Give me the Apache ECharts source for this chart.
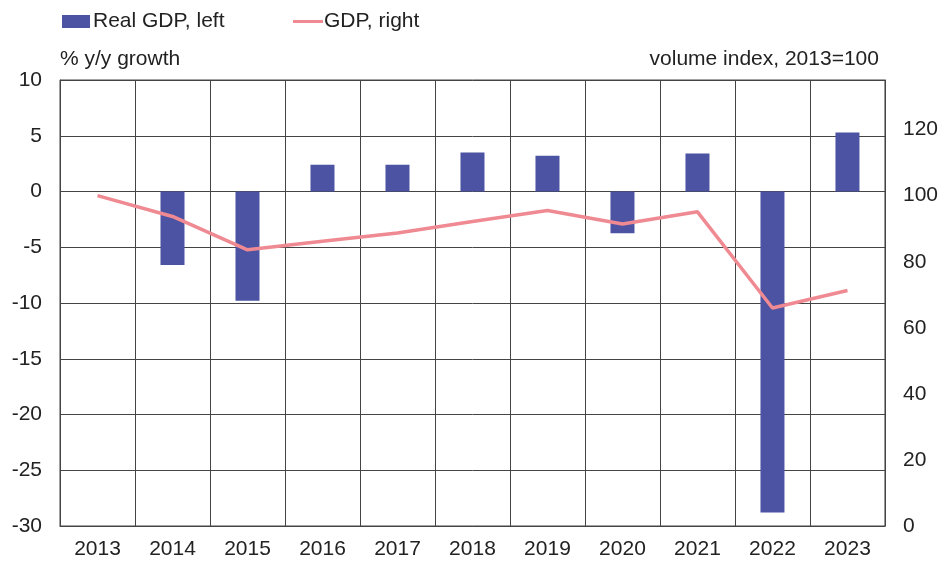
<!DOCTYPE html>
<html>
<head>
<meta charset="utf-8">
<script src="https://cdn.jsdelivr.net/npm/echarts@6/dist/echarts.min.js"></script>
<style>
  html, body { margin: 0; padding: 0; background: #fff; }
  #chart { width: 941px; height: 565px; }
</style>
</head>
<body>
<div id="chart"></div>
<script>
const years = ['2013', '2014', '2015', '2016', '2017', '2018', '2019', '2020', '2021', '2022', '2023']
// % y/y growth, left axis (no bar for the base year)
const realGdp = [null, -6.6, -9.8, 2.4, 2.4, 3.5, 3.2, -3.75, 3.4, -28.8, 5.3]
// volume index 2013=100, right axis
const gdpIndex = [100, 93.7, 83.6, 86.2, 88.7, 92.2, 95.5, 91.4, 95.1, 66.0, 71.3]

const font = 'Liberation Sans, Arial, sans-serif'
const fs = 21
const gridColor = '#444'

const chart = echarts.init(document.getElementById('chart'))

chart.setOption({
  animation: false,
  textStyle: { fontFamily: font },
  legend: [
    {
      left: 57,
      top: 6,
      itemWidth: 28,
      itemHeight: 13,
      itemGap: 0,
      textStyle: { fontSize: fs, color: '#222', fontFamily: font, padding: [0, 0, 0, -2] },
      data: [{ name: 'Real GDP, left', icon: 'rect' }]
    },
    {
      left: 288,
      top: 6,
      itemWidth: 30,
      itemHeight: 13,
      textStyle: { fontSize: fs, color: '#222', fontFamily: font, padding: [0, 0, 0, -4] },
      data: [{ name: 'GDP, right', icon: 'path://M0,0 H30 V3 H0 Z' }]
    }
  ],
  grid: {
    left: 60,
    right: 56,
    top: 80,
    bottom: 39,
    show: true,
    borderColor: gridColor,
    borderWidth: 1
  },
  xAxis: {
    type: 'category',
    data: years,
    boundaryGap: true,
    axisLine: { onZero: false, lineStyle: { color: gridColor } },
    axisTick: { show: false },
    axisLabel: { fontSize: fs, color: '#222', margin: 13, fontFamily: font },
    splitLine: { show: true, lineStyle: { color: gridColor, width: 1 } }
  },
  yAxis: [
    {
      type: 'value',
      min: -30,
      max: 10,
      interval: 5,
      name: '% y/y growth',
      nameLocation: 'end',
      nameGap: 10,
      nameTextStyle: { fontSize: fs, color: '#222', align: 'left', verticalAlign: 'bottom', fontFamily: font },
      axisLine: { show: true, lineStyle: { color: gridColor } },
      axisTick: { show: false },
      axisLabel: { fontSize: fs, color: '#222', margin: 18, fontFamily: font },
      splitLine: { show: true, lineStyle: { color: gridColor, width: 1 } }
    },
    {
      type: 'value',
      min: 0,
      max: 135,
      interval: 20,
      name: 'volume index, 2013=100',
      nameLocation: 'end',
      nameGap: 10,
      nameTextStyle: { fontSize: fs, color: '#222', align: 'right', verticalAlign: 'bottom', padding: [0, 6, 0, 0], fontFamily: font },
      axisLine: { show: true, lineStyle: { color: gridColor } },
      axisTick: { show: false },
      axisLabel: {
        fontSize: fs,
        color: '#222',
        margin: 18,
        fontFamily: font,
        formatter: v => (v % 20 === 0 ? String(v) : '')
      },
      splitLine: { show: false }
    }
  ],
  series: [
    {
      name: 'Real GDP, left',
      type: 'bar',
      yAxisIndex: 0,
      barWidth: 24,
      itemStyle: { color: '#4b53a2' },
      data: realGdp
    },
    {
      name: 'GDP, right',
      type: 'line',
      yAxisIndex: 1,
      showSymbol: false,
      symbol: 'none',
      lineStyle: { color: '#f08a92', width: 3.5 },
      itemStyle: { color: '#f08a92' },
      data: gdpIndex
    }
  ]
})
</script>
</body>
</html>
